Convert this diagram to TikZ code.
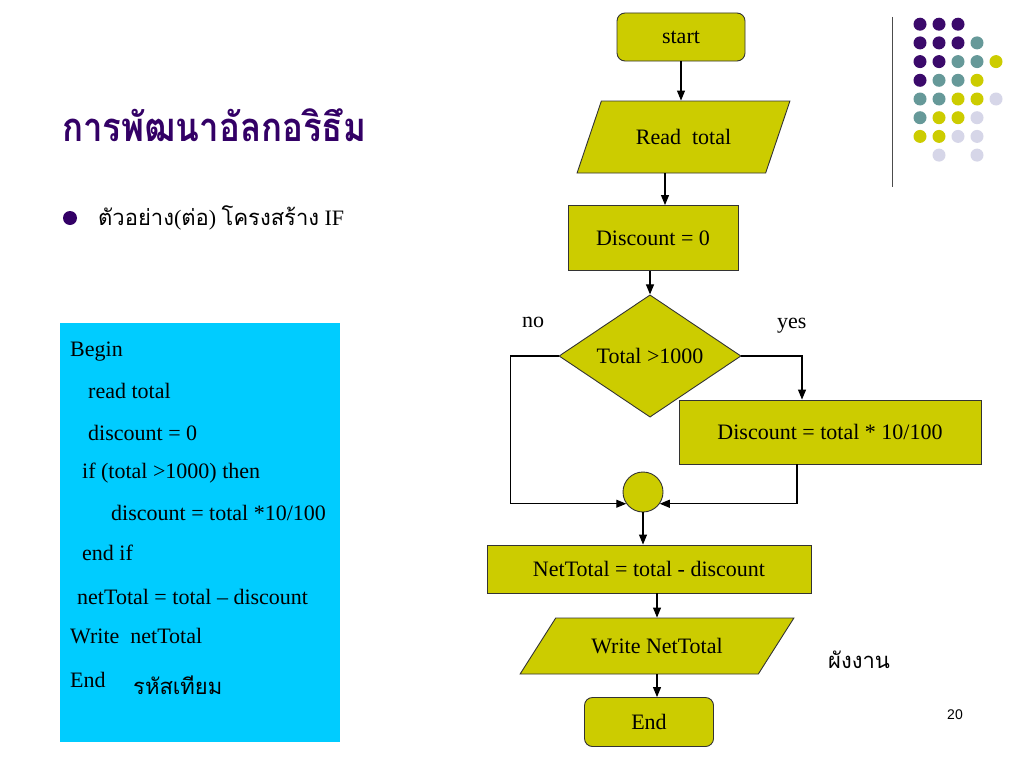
\documentclass[tikz,border=0pt]{standalone}
\usepackage{fontspec}
\setmainfont{Liberation Serif}
\setsansfont{Liberation Sans}
\newfontfamily\thaifont[Script=Thai]{Loma}
\usetikzlibrary{shapes.geometric,arrows.meta,positioning}
\definecolor{chartfill}{RGB}{204,204,0}
\definecolor{titlepurple}{RGB}{51,0,102}
\definecolor{codeblue}{RGB}{0,204,255}
\definecolor{dotP}{RGB}{59,10,107}
\definecolor{dotT}{RGB}{102,153,153}
\definecolor{dotY}{RGB}{204,204,0}
\definecolor{dotL}{RGB}{214,214,232}
\tikzset{
  box/.style={rectangle, draw=black!80, line width=0.9pt, fill=chartfill, font=\fontsize{22}{26}\selectfont, inner sep=2pt},
  term/.style={box, rounded corners=8pt},
  io/.style={box, trapezium, trapezium stretches=true},
  decide/.style={box, diamond, inner sep=0pt},
  joint/.style={box, circle, minimum size=40pt, inner sep=0pt},
  arr/.style={-{Triangle[length=10pt,width=8pt]}, line width=1.1pt},
  link/.style={line width=1.1pt},
  code/.style={anchor=west, font=\fontsize{22}{26}\selectfont, inner sep=0pt},
  thai/.style={anchor=west, font=\thaifont\fontsize{22}{26}\selectfont, inner sep=0pt}
}

\begin{document}
\begin{tikzpicture}[x=1pt, y=-1pt]
\fill[white] (0,0) rectangle (1024,768);
\useasboundingbox (0,0) rectangle (1024,768);

% title and bullet
\node[anchor=west, inner sep=0pt, xscale=0.87, text=titlepurple, font=\thaifont\bfseries\fontsize{40}{46}\selectfont] (title) at (62,125) {การพัฒนาอัลกอริธึม};
\fill[titlepurple] (70,218) circle (7);
\node[code] (bullet) at (98,218) {{\thaifont ตัวอย่าง}({\thaifont ต่อ}) {\thaifont โครงสร้าง} IF};

% pseudo code
\fill[codeblue] (60,323) rectangle (340,742);
\node[code] (c1) at (70,352) {Begin};
\node[code] (c2) at (88,391) {read total};
\node[code] (c3) at (88,433) {discount = 0};
\node[code] (c4) at (82,473) {if (total >1000) then};
\node[code] (c5) at (111,513) {discount = total *10/100};
\node[code] (c6) at (82,553) {end if};
\node[code] (c7) at (77,597) {netTotal = total -- discount};
\node[code] (c8) at (70,636) {Write\ \ netTotal};
\node[code] (c9) at (70,680) {End};
\node[thai] (pseudo) at (133,685) {รหัสเทียม};

% flowchart
\node[term, minimum width=128pt, minimum height=48pt] (start) at (681,37) {start};
\node[io, trapezium left angle=53, trapezium right angle=127, minimum width=213pt, minimum height=72pt] (read) at (683.5,137) {Read\ \ total};
\node[box, minimum width=170pt, minimum height=65pt] (disc0) at (653,238) {Discount = 0};
\node[decide, minimum width=182pt, minimum height=87pt] (dia) at (650,356) {Total >1000};
\node[box, minimum width=302pt, minimum height=64pt] (disc1) at (830,432) {Discount = total * 10/100};
\node[joint] (circ) at (643,492) {};
\node[box, minimum width=324pt, minimum height=48pt] (net) at (649,569) {NetTotal = total - discount};
\node[io, trapezium left angle=39.5, trapezium right angle=140.5, minimum width=274pt, minimum height=56pt] (write) at (657,646) {Write NetTotal};
\node[term, minimum width=129pt, minimum height=49pt] (end) at (649,722) {End};

\node[code] (no) at (522,322) {no};
\node[code] (yes) at (777,326) {yes};
\node[thai] (chart) at (828,660) {ผังงาน};
\node[anchor=center, font=\sffamily\fontsize{14}{16}\selectfont] (page) at (955,715) {20};

\draw[arr] (start) -- (start |- read.north);
\draw[arr] ([xshift=12pt]disc0.north |- read.south) -- ([xshift=12pt]disc0.north);
\draw[arr] (disc0.south -| dia.north) -- (dia.north);
\draw[arr] (dia.west) -- ++(-48,0) |- (circ.215);
\draw[arr] (dia.east) -| ([xshift=-28pt]disc1.north);
\draw[arr] ([xshift=-33pt]disc1.south) |- (circ.325);
\draw[arr] (circ.south) -- (circ.south |- net.north);
\draw[arr] (write.north |- net.south) -- (write.north);
\draw[arr] (write.south) -- (write.south |- end.north);

% corner dots
\draw[black!70, line width=1pt] (892,17) -- (892,187);
\foreach \r/\cl in {1/{dotP,dotP,dotP}, 2/{dotP,dotP,dotP,dotT}, 3/{dotP,dotP,dotT,dotT,dotY},
                    4/{dotP,dotT,dotT,dotY}, 5/{dotT,dotT,dotY,dotY,dotL}, 6/{dotT,dotY,dotY,dotL},
                    7/{dotY,dotY,dotL,dotL}, 8/{none,dotL,none,dotL}}
  \foreach \c [count=\k] in \cl
    \fill[fill=\c] ({901+19*\k},{5.5+18.7*\r}) circle (6.5);
\end{tikzpicture}
\end{document}
